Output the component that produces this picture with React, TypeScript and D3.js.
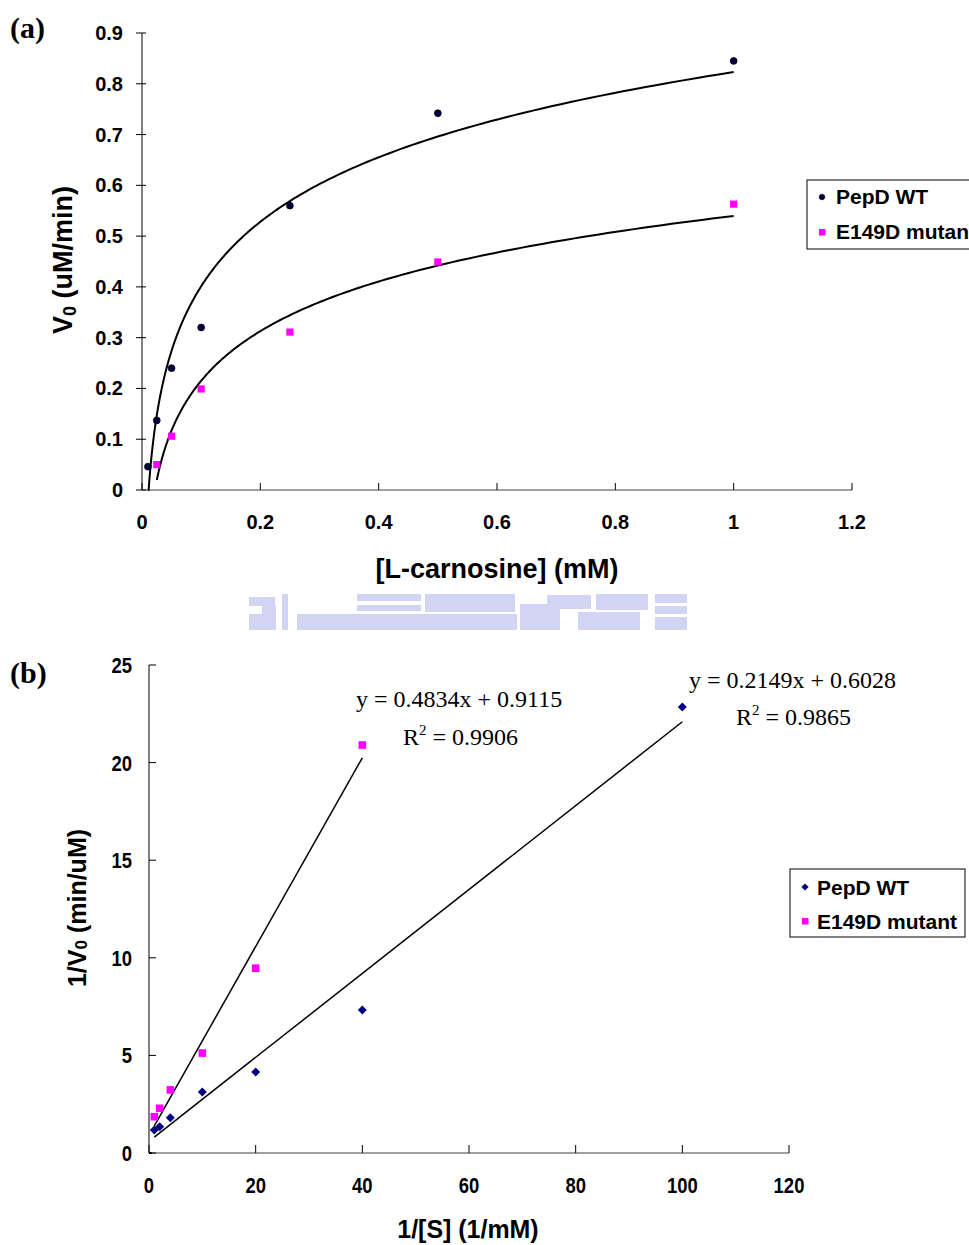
import React from "react";
import * as d3 from "d3";

// ---------- Panel (a) data ----------
const wtS = [0.01, 0.025, 0.05, 0.1, 0.25, 0.5, 1.0];
const wtV = [0.046, 0.137, 0.24, 0.32, 0.56, 0.742, 0.845];
const mutS = [0.025, 0.05, 0.1, 0.25, 0.5, 1.0];
const mutV = [0.05, 0.106, 0.199, 0.311, 0.449, 0.563];
const aXTicks = [0, 0.2, 0.4, 0.6, 0.8, 1, 1.2];
const aYTicks = [0, 0.1, 0.2, 0.3, 0.4, 0.5, 0.6, 0.7, 0.8, 0.9];

// ---------- Panel (b) data ----------
const wtInvS = [1, 2, 4, 10, 20, 40, 100];
const wtInvV = [1.18, 1.35, 1.81, 3.12, 4.15, 7.32, 22.85];
const mutInvS = [1, 2, 4, 10, 20, 40];
const mutInvV = [1.86, 2.29, 3.23, 5.12, 9.47, 20.9];
const wtFit = { slope: 0.2149, intercept: 0.6028, r2: 0.9865 };
const mutFit = { slope: 0.4834, intercept: 0.9115, r2: 0.9906 };
const bXTicks = [0, 20, 40, 60, 80, 100, 120];
const bYTicks = [0, 5, 10, 15, 20, 25];

const seriesNames = ["PepD WT", "E149D mutant"];
const WT_COLOR = "#000080";
const MUT_COLOR = "#FF00FF";

function logFit(xs: number[], ys: number[]) {
  const lx = xs.map(Math.log);
  const mx = d3.mean(lx)!;
  const my = d3.mean(ys)!;
  let sxy = 0, sxx = 0;
  lx.forEach((v, i) => {
    sxy += (v - mx) * (ys[i] - my);
    sxx += (v - mx) * (v - mx);
  });
  const a = sxy / sxx;
  const b = my - a * mx;
  return (x: number) => a * Math.log(x) + b;
}

const SANS = "Arial, 'Liberation Sans', sans-serif";
const SERIF = "'Times New Roman', 'Liberation Serif', serif";

export default function App() {
  // Panel (a) scales
  const ax = d3.scaleLinear().domain([0, 1.2]).range([142, 852]);
  const ay = d3.scaleLinear().domain([0, 0.9]).range([490, 33]);
  const fWt = logFit(wtS, wtV);
  const fMut = logFit(mutS, mutV);
  const curve = (f: (x: number) => number, lo: number, hi: number) => {
    const n = 200;
    const pts: [number, number][] = d3.range(n + 1).map((i) => {
      const x = Math.exp(Math.log(lo) + ((Math.log(hi) - Math.log(lo)) * i) / n);
      return [ax(x), ay(Math.max(0, f(x)))];
    });
    return d3.line()(pts) || "";
  };

  // Panel (b) scales
  const bx = d3.scaleLinear().domain([0, 120]).range([149, 789]);
  const by = d3.scaleLinear().domain([0, 25]).range([1153, 665]);
  const fitLine = (fit: { slope: number; intercept: number }, xs: number[]) => {
    const lo = d3.min(xs)!, hi = d3.max(xs)!;
    return d3.line()([
      [bx(lo), by(fit.slope * lo + fit.intercept)],
      [bx(hi), by(fit.slope * hi + fit.intercept)],
    ]) || "";
  };

  const diamond = (cx: number, cy: number, r: number) =>
    `M${cx},${cy - r}L${cx + r},${cy}L${cx},${cy + r}L${cx - r},${cy}Z`;

  const condensed = (x: number, y: number, s: number) =>
    `translate(${x},${y}) scale(${s},1)`;

  return (
    <svg
      width={969}
      height={1245}
      style={{ position: "absolute", left: 0, top: 0, background: "#fff" }}
    >
      <rect x={0} y={0} width={969} height={1245} fill="#fff" />

      {/* ================= Panel (a) ================= */}
      <text x={10} y={38} fontFamily={SERIF} fontWeight="bold" fontSize={30}>
        (a)
      </text>

      {/* axes */}
      <line x1={ax(0)} x2={ax(0)} y1={ay(0.9)} y2={ay(0)} stroke="#000" strokeWidth={1} />
      <line x1={ax(0)} x2={ax(1.2)} y1={ay(0)} y2={ay(0)} stroke="#808080" strokeWidth={1.3} />
      {aYTicks.map((t) => (
        <g key={"ay" + t}>
          <line x1={ax(0) - 6} x2={ax(0) + 4} y1={ay(t)} y2={ay(t)} stroke="#000" />
          <text
            x={123}
            y={ay(t) + 7}
            textAnchor="end"
            fontFamily={SANS}
            fontWeight="bold"
            fontSize={20}
          >
            {t === 0 ? "0" : t.toFixed(1)}
          </text>
        </g>
      ))}
      {aXTicks.map((t) => (
        <g key={"ax" + t}>
          <line x1={ax(t)} x2={ax(t)} y1={ay(0) - 7} y2={ay(0)} stroke="#000" />
          <text
            x={ax(t)}
            y={529}
            textAnchor="middle"
            fontFamily={SANS}
            fontWeight="bold"
            fontSize={20}
          >
            {t === 0 ? "0" : t === 1 ? "1" : String(+t.toFixed(1))}
          </text>
        </g>
      ))}

      {/* axis titles */}
      <text
        transform={`translate(72,260) rotate(-90)`}
        textAnchor="middle"
        fontFamily={SANS}
        fontWeight="bold"
        fontSize={27}
      >
        V<tspan fontSize={18} dy={4}>0</tspan>
        <tspan dy={-4}> (uM/min)</tspan>
      </text>
      <text x={497} y={578} textAnchor="middle" fontFamily={SANS} fontWeight="bold" fontSize={27}>
        [L-carnosine] (mM)
      </text>

      {/* fitted curves */}
      <path d={curve(fWt, d3.min(wtS)!, d3.max(wtS)!)} fill="none" stroke="#000" strokeWidth={2} />
      <path d={curve(fMut, d3.min(mutS)!, d3.max(mutS)!)} fill="none" stroke="#000" strokeWidth={2} />

      {/* points */}
      {wtS.map((s, i) => (
        <circle key={"wa" + i} cx={ax(s)} cy={ay(wtV[i])} r={3.4} fill="#000040" stroke="#000" strokeWidth={0.8} />
      ))}
      {mutS.map((s, i) => (
        <rect key={"ma" + i} x={ax(s) - 3.6} y={ay(mutV[i]) - 3.6} width={7.2} height={7.2} fill={MUT_COLOR} />
      ))}

      {/* legend (a) */}
      <rect x={807} y={180} width={170} height={69} fill="#fff" stroke="#000" strokeWidth={1} />
      <circle cx={822} cy={197} r={2.8} fill="#000040" stroke="#000" strokeWidth={0.6} />
      <text x={836} y={204} fontFamily={SANS} fontWeight="bold" fontSize={21}>
        {seriesNames[0]}
      </text>
      <rect x={819} y={229} width={6.5} height={6.5} fill={MUT_COLOR} />
      <text x={836} y={239} fontFamily={SANS} fontWeight="bold" fontSize={21}>
        {seriesNames[1]}
      </text>

      {/* watermark */}
      <g fill="#cdd1f2" opacity={0.9}>
        <rect x={249} y={597} width={26} height={9} />
        <rect x={262} y={606} width={14} height={8} />
        <rect x={249} y={614} width={27} height={16} />
        <rect x={282} y={594} width={6} height={36} />
        <rect x={297} y={614} width={60} height={16} />
        <rect x={357} y={594} width={64} height={7} />
        <rect x={357} y={605} width={64} height={6} />
        <rect x={357} y={614} width={160} height={16} />
        <rect x={425} y={594} width={90} height={18} />
        <rect x={520} y={604} width={40} height={26} />
        <rect x={547} y={595} width={44} height={14} />
        <rect x={578} y={612} width={62} height={18} />
        <rect x={596} y={594} width={52} height={16} />
        <rect x={655} y={594} width={32} height={9} />
        <rect x={655} y={606} width={32} height={8} />
        <rect x={655} y={617} width={32} height={13} />
      </g>

      {/* ================= Panel (b) ================= */}
      <text x={10} y={683} fontFamily={SERIF} fontWeight="bold" fontSize={30}>
        (b)
      </text>

      <line x1={bx(0)} x2={bx(0)} y1={by(25)} y2={by(0)} stroke="#000" strokeWidth={1} />
      <line x1={bx(0)} x2={bx(120)} y1={by(0)} y2={by(0)} stroke="#808080" strokeWidth={1.3} />
      <line x1={bx(0)} x2={bx(0) + 3} y1={by(0)} y2={by(0)} stroke="#000" strokeWidth={2} />
      {bYTicks.map((t) => (
        <g key={"by" + t}>
          <line x1={bx(0)} x2={bx(0) + 7} y1={by(t)} y2={by(t)} stroke="#000" />
          <text
            transform={condensed(132, by(t) + 8, 0.84)}
            textAnchor="end"
            fontFamily={SANS}
            fontWeight="bold"
            fontSize={22}
          >
            {t}
          </text>
        </g>
      ))}
      {bXTicks.map((t) => (
        <g key={"bx" + t}>
          <line x1={bx(t)} x2={bx(t)} y1={by(0) - 8} y2={by(0)} stroke="#000" />
          <text
            transform={condensed(bx(t), 1193, 0.84)}
            textAnchor="middle"
            fontFamily={SANS}
            fontWeight="bold"
            fontSize={22}
          >
            {t}
          </text>
        </g>
      ))}

      <text
        transform={`translate(86,908) rotate(-90)`}
        textAnchor="middle"
        fontFamily={SANS}
        fontWeight="bold"
        fontSize={25}
      >
        1/V<tspan fontSize={17} dy={1}>0</tspan>
        <tspan dy={-1}> (min/uM)</tspan>
      </text>
      <text
        transform={condensed(468, 1238, 0.96)}
        textAnchor="middle"
        fontFamily={SANS}
        fontWeight="bold"
        fontSize={26}
      >
        1/[S] (1/mM)
      </text>

      {/* fit lines */}
      <path d={fitLine(mutFit, mutInvS)} stroke="#000" strokeWidth={1.5} fill="none" />
      <path d={fitLine(wtFit, wtInvS)} stroke="#000" strokeWidth={1.5} fill="none" />

      {/* points */}
      {wtInvS.map((s, i) => (
        <path key={"wb" + i} d={diamond(bx(s), by(wtInvV[i]), 4.5)} fill={WT_COLOR} />
      ))}
      {mutInvS.map((s, i) => (
        <rect key={"mb" + i} x={bx(s) - 3.8} y={by(mutInvV[i]) - 3.8} width={7.6} height={7.6} fill={MUT_COLOR} />
      ))}

      {/* equations */}
      <text x={356} y={707} fontFamily={SERIF} fontSize={24}>
        {`y = ${mutFit.slope}x + ${mutFit.intercept}`}
      </text>
      <text x={403} y={745} fontFamily={SERIF} fontSize={24}>
        R<tspan fontSize={15} dy={-10}>2</tspan>
        <tspan dy={10}>{` = ${mutFit.r2.toFixed(4)}`}</tspan>
      </text>
      <text x={689} y={688} fontFamily={SERIF} fontSize={24}>
        {`y = ${wtFit.slope}x + ${wtFit.intercept}`}
      </text>
      <text x={736} y={725} fontFamily={SERIF} fontSize={24}>
        R<tspan fontSize={15} dy={-10}>2</tspan>
        <tspan dy={10}>{` = ${wtFit.r2.toFixed(4)}`}</tspan>
      </text>

      {/* legend (b) */}
      <rect x={790} y={869} width={175} height={68} fill="#fff" stroke="#000" strokeWidth={1} />
      <path d={diamond(805, 887, 3.6)} fill={WT_COLOR} />
      <text x={817} y={895} fontFamily={SANS} fontWeight="bold" fontSize={21}>
        {seriesNames[0]}
      </text>
      <rect x={802} y={918} width={6.5} height={6.5} fill={MUT_COLOR} />
      <text x={817} y={929} fontFamily={SANS} fontWeight="bold" fontSize={21}>
        {seriesNames[1]}
      </text>
    </svg>
  );
}
